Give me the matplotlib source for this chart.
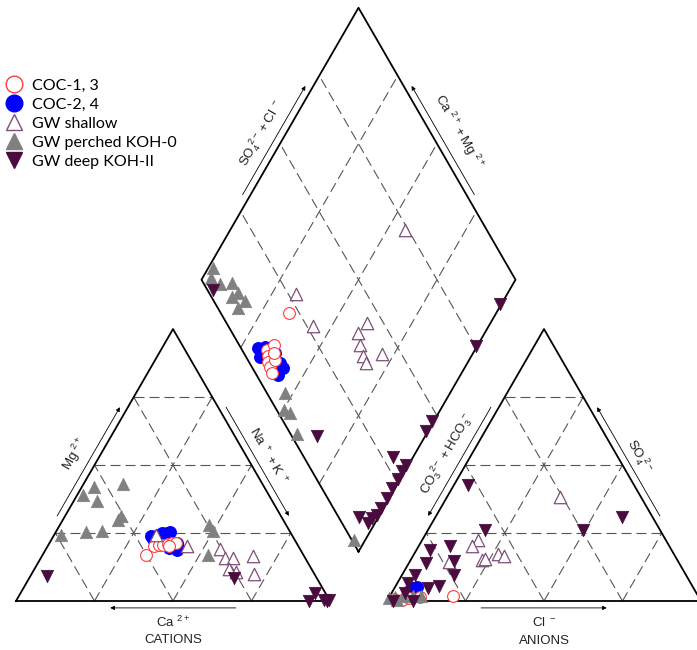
import matplotlib
matplotlib.use("Agg")
import matplotlib.pyplot as plt
from matplotlib.lines import Line2D
import numpy as np

# Values (percent of meq/L).
# cation triangle: (Mg, Na+K); anion triangle: (SO4, Cl); diamond: (SO4+Cl, Ca+Mg)
COC13_CATIONS = [(16.9, 32.9), (20.2, 34.0), (20.6, 35.3), (20.6, 36.6), (21.0, 37.8),
                 (21.3, 39.0), (21.3, 40.2), (20.2, 38.5)]
COC13_ANIONS = [(1.5, 9.8), (1.8, 20.1), (0.4, 4.6), (0.6, 2.0), (1.0, 6.5)]
COC13_DIAMOND = [(21.8, 66.0), (7.9, 66.2), (11.1, 64.9), (7.2, 64.8), (6.0, 63.7),
                 (5.8, 62.1), (5.3, 60.4), (8.6, 61.8), (9.5, 63.5)]

COC24_CATIONS = [(23.9, 31.0), (22.8, 32.2), (25.0, 34.0), (25.0, 35.6), (25.4, 36.3),
                 (19.9, 41.7), (18.8, 41.9), (24.3, 33.1), (21.5, 40.5), (19.5, 39.0)]
COC24_ANIONS = [(4.8, 5.9), (5.1, 7.0), (4.0, 5.3)]
COC24_DIAMOND = [(5.4, 69.5), (6.0, 67.4), (4.4, 67.2), (9.7, 59.7), (9.7, 57.8),
                 (6.9, 58.1), (9.9, 63.1), (7.9, 67.4), (8.5, 61.0), (7.0, 64.0)]

SHALLOW_CATIONS = [(19.1, 55.4), (15.8, 58.7), (15.8, 61.2), (16.6, 67.2), (11.8, 61.9),
                   (10.7, 64.8), (9.9, 70.8), (20.2, 44.4), (24.3, 32.5)]
SHALLOW_ANIONS = [(22.4, 17.8), (20.2, 17.0), (17.3, 26.7), (16.6, 29.0), (15.1, 22.8),
                  (15.4, 23.5), (14.3, 12.5), (38.3, 36.0)]
SHALLOW_DIAMOND = [(74.0, 44.3), (27.5, 67.3), (27.0, 56.0), (44.8, 39.3), (40.0, 40.4),
                   (38.5, 37.5), (37.4, 34.5), (37.1, 32.3), (43.8, 28.8)]

PERCHED_CATIONS = [(41.9, 3.9), (43.0, 12.6), (39.0, 1.8), (36.8, 7.4), (29.8, 17.6),
                   (31.3, 17.8), (24.3, 2.2), (25.4, 9.6), (25.7, 14.5), (28.0, 47.5),
                   (25.7, 49.8), (16.9, 52.7)]
PERCHED_ANIONS = [(1.1, 0.0), (1.5, 1.8), (1.8, 4.2), (1.8, 7.4), (1.8, 9.9), (0.5, 3.0)]
PERCHED_DIAMOND = [(5.8, 98.5), (3.4, 97.3), (5.1, 93.3), (9.1, 89.7), (9.2, 85.9),
                   (6.5, 87.1), (10.0, 82.2), (6.4, 83.2), (5.8, 52.6), (2.3, 49.8),
                   (3.7, 47.3), (2.0, 41.2), (0.7, 3.6)]

DEEP_CATIONS = [(9.2, 5.3), (8.5, 65.2), (2.9, 93.7), (0.0, 93.3), (0.4, 97.8),
                (0.4, 99.6), (0.0, 99.0)]
DEEP_ANIONS = [(42.7, 4.5), (26.1, 18.1), (26.1, 49.4), (30.9, 59.4), (18.8, 4.3),
               (20.2, 10.0), (14.7, 14.0), (14.0, 5.4), (9.6, 16.5), (9.6, 4.1),
               (6.6, 3.4), (4.8, 10.7), (5.5, 13.8), (0.0, 1.9), (0.0, 8.3), (2.9, 4.2)]
DEEP_DIAMOND = [(1.8, 94.5), (8.0, 34.5), (6.5, 6.2), (8.3, 2.2), (10.5, 1.9), (12.6, 1.0),
                (15.1, 0.8), (19.1, 0.8), (22.3, 1.0), (25.8, 0.8), (28.8, 0.8), (30.9, 0.8),
                (28.4, 6.4), (43.8, 0.6), (47.4, 0.5), (75.2, 0.5), (90.5, 0.5)]

H = np.sqrt(3) / 2
GAP = 0.1815
AX2 = 1 + GAP  # left corner of the anion triangle
BOTTOM = np.array([1 + GAP / 2, GAP * H])
LEFT = BOTTOM + np.array([-0.5, H])
RIGHT = BOTTOM + np.array([0.5, H])
TOP = BOTTOM + np.array([0.0, 2 * H])

LABEL_FONT = ["Liberation Sans Narrow", "Liberation Sans", "DejaVu Sans"]
LABEL_SIZE = 9.5


def cation_xy(points):
    mg, nak = np.array(points, dtype=float).T / 100
    return nak + mg / 2, mg * H


def anion_xy(points):
    so4, cl = np.array(points, dtype=float).T / 100
    return AX2 + cl + so4 / 2, so4 * H


def diamond_xy(points):
    a, b = np.array(points, dtype=float).T / 100
    return BOTTOM[0] + 0.5 * (a - b), BOTTOM[1] + H * (a + b)


def draw_triangle(ax, ox):
    ax.plot([ox, ox + 1, ox + 0.5, ox], [0, 0, H, 0], color="black", lw=1.3, zorder=2)
    for t in (0.25, 0.5, 0.75):
        kw = dict(color="#555555", lw=0.8, ls=(0, (9, 4.5)), zorder=1)
        ax.plot([ox + t / 2, ox + 1 - t / 2], [t * H, t * H], **kw)
        ax.plot([ox + t, ox + t + (1 - t) / 2], [0, (1 - t) * H], **kw)
        ax.plot([ox + t, ox + t / 2], [0, t * H], **kw)


def draw_diamond(ax):
    pts = np.array([BOTTOM, RIGHT, TOP, LEFT, BOTTOM])
    ax.plot(pts[:, 0], pts[:, 1], color="black", lw=1.3, zorder=2)
    kw = dict(color="#555555", lw=0.8, ls=(0, (9, 4.5)), zorder=1)
    for t in (0.25, 0.5, 0.75):
        x, y = diamond_xy([(t * 100, 0), (t * 100, 100)])
        ax.plot(x, y, **kw)
        x, y = diamond_xy([(0, t * 100), (100, t * 100)])
        ax.plot(x, y, **kw)


def edge_arrow(ax, p0, p1, sign, label, rot, off=0.022, loff=0.07, lt=0.5):
    p0, p1 = np.array(p0), np.array(p1)
    d = p1 - p0
    n = sign * np.array([-d[1], d[0]])
    start = p0 + 0.3 * d + off * n
    end = p0 + 0.7 * d + off * n
    ax.annotate("", xy=end, xytext=start,
                arrowprops=dict(arrowstyle="-|>", lw=0.6, color="black",
                                mutation_scale=6, shrinkA=0, shrinkB=0))
    pos = p0 + lt * d + loff * n
    ax.text(pos[0], pos[1], label, rotation=rot, ha="center", va="center",
            fontsize=LABEL_SIZE, family=LABEL_FONT, color="#222222")


fig = plt.figure(figsize=(6.97, 6.5), dpi=100)
ax = fig.add_axes([0, 0, 1, 1])
ax.set_xlim(-16 / 314, 681 / 314)
ax.set_ylim(-49 / 314, 601 / 314)
ax.set_aspect("equal")
ax.axis("off")

draw_triangle(ax, 0)
draw_triangle(ax, AX2)
draw_diamond(ax)

# axis arrows and labels
edge_arrow(ax, (0, 0), (0.5, H), 1, r"$\mathregular{Mg^{\ 2+}}$", 60)
edge_arrow(ax, (0.5, H), (1, 0), 1, r"$\mathregular{Na^{\ +}+K^{\ +}}$", -60, loff=0.06)
edge_arrow(ax, (1, 0), (0, 0), 1, "", 0)
edge_arrow(ax, (AX2, 0), (AX2 + 1, 0), -1, "", 0)
edge_arrow(ax, (AX2 + 0.5, H), (AX2, 0), -1,
           r"$\mathregular{CO_3^{\ 2-}+HCO_3^{\ -}}$", 60, loff=0.07)
edge_arrow(ax, (AX2 + 1, 0), (AX2 + 0.5, H), -1, r"$\mathregular{SO_4^{\ 2-}}$", -60, loff=0.06)
edge_arrow(ax, LEFT, TOP, 1, r"$\mathregular{SO_4^{\ 2-}+Cl^{\ -}}$", 60)
edge_arrow(ax, RIGHT, TOP, -1, r"$\mathregular{Ca^{\ 2+}+Mg^{\ 2+}}$", -60, loff=0.08)

ax.text(0.5, -0.067, r"$\mathregular{Ca^{\ 2+}}$", ha="center", va="center",
        fontsize=LABEL_SIZE, family=LABEL_FONT, color="#222222")
ax.text(0.5, -0.124, "CATIONS", ha="center", va="center", fontsize=LABEL_SIZE,
        family=LABEL_FONT, color="#222222")
ax.text(AX2 + 0.5, -0.067, r"$\mathregular{Cl^{\ -}}$", ha="center", va="center",
        fontsize=LABEL_SIZE, family=LABEL_FONT, color="#222222")
ax.text(AX2 + 0.5, -0.126, "ANIONS", ha="center", va="center", fontsize=LABEL_SIZE,
        family=LABEL_FONT, color="#222222")

# samples
styles = [
    ("COC-1, 3", [COC13_CATIONS, COC13_ANIONS, COC13_DIAMOND],
     dict(marker="o", facecolor="white", edgecolor="#FF3B3B", s=72, linewidths=0.8), 4),
    ("COC-2, 4", [COC24_CATIONS, COC24_ANIONS, COC24_DIAMOND],
     dict(marker="o", facecolor="#0000FF", edgecolor="#0000FF", s=72, linewidths=0.8), 3),
    ("GW shallow", [SHALLOW_CATIONS, SHALLOW_ANIONS, SHALLOW_DIAMOND],
     dict(marker="^", facecolor="white", edgecolor="#7E4E78", s=80, linewidths=0.9), 5),
    ("GW perched KOH-0", [PERCHED_CATIONS, PERCHED_ANIONS, PERCHED_DIAMOND],
     dict(marker="^", facecolor="#808080", edgecolor="#808080", s=80, linewidths=0.5), 6),
    ("GW deep KOH-II", [DEEP_CATIONS, DEEP_ANIONS, DEEP_DIAMOND],
     dict(marker="v", facecolor="#4A0B3E", edgecolor="#4A0B3E", s=80, linewidths=0.5), 7),
]

handles = []
for name, (cat, an, dia), kw, z in styles:
    for fn, pts in ((cation_xy, cat), (anion_xy, an), (diamond_xy, dia)):
        x, y = fn(pts)
        ax.scatter(x, y, zorder=z, **kw)
    handles.append(Line2D([], [], ls="none", marker=kw["marker"], markersize=12,
                          markerfacecolor=kw["facecolor"], markeredgecolor=kw["edgecolor"],
                          markeredgewidth=1.0, label=name))

fig.legend(handles=handles, loc="upper left", bbox_to_anchor=(0.0, 1 - 74 / 650),
           frameon=False, prop=dict(family=["Lato", "DejaVu Sans"], size=11.5),
           handlelength=1.2, handletextpad=0.5, labelspacing=0.3, borderpad=0.3,
           borderaxespad=0)

fig.savefig("out.png", dpi=100)
